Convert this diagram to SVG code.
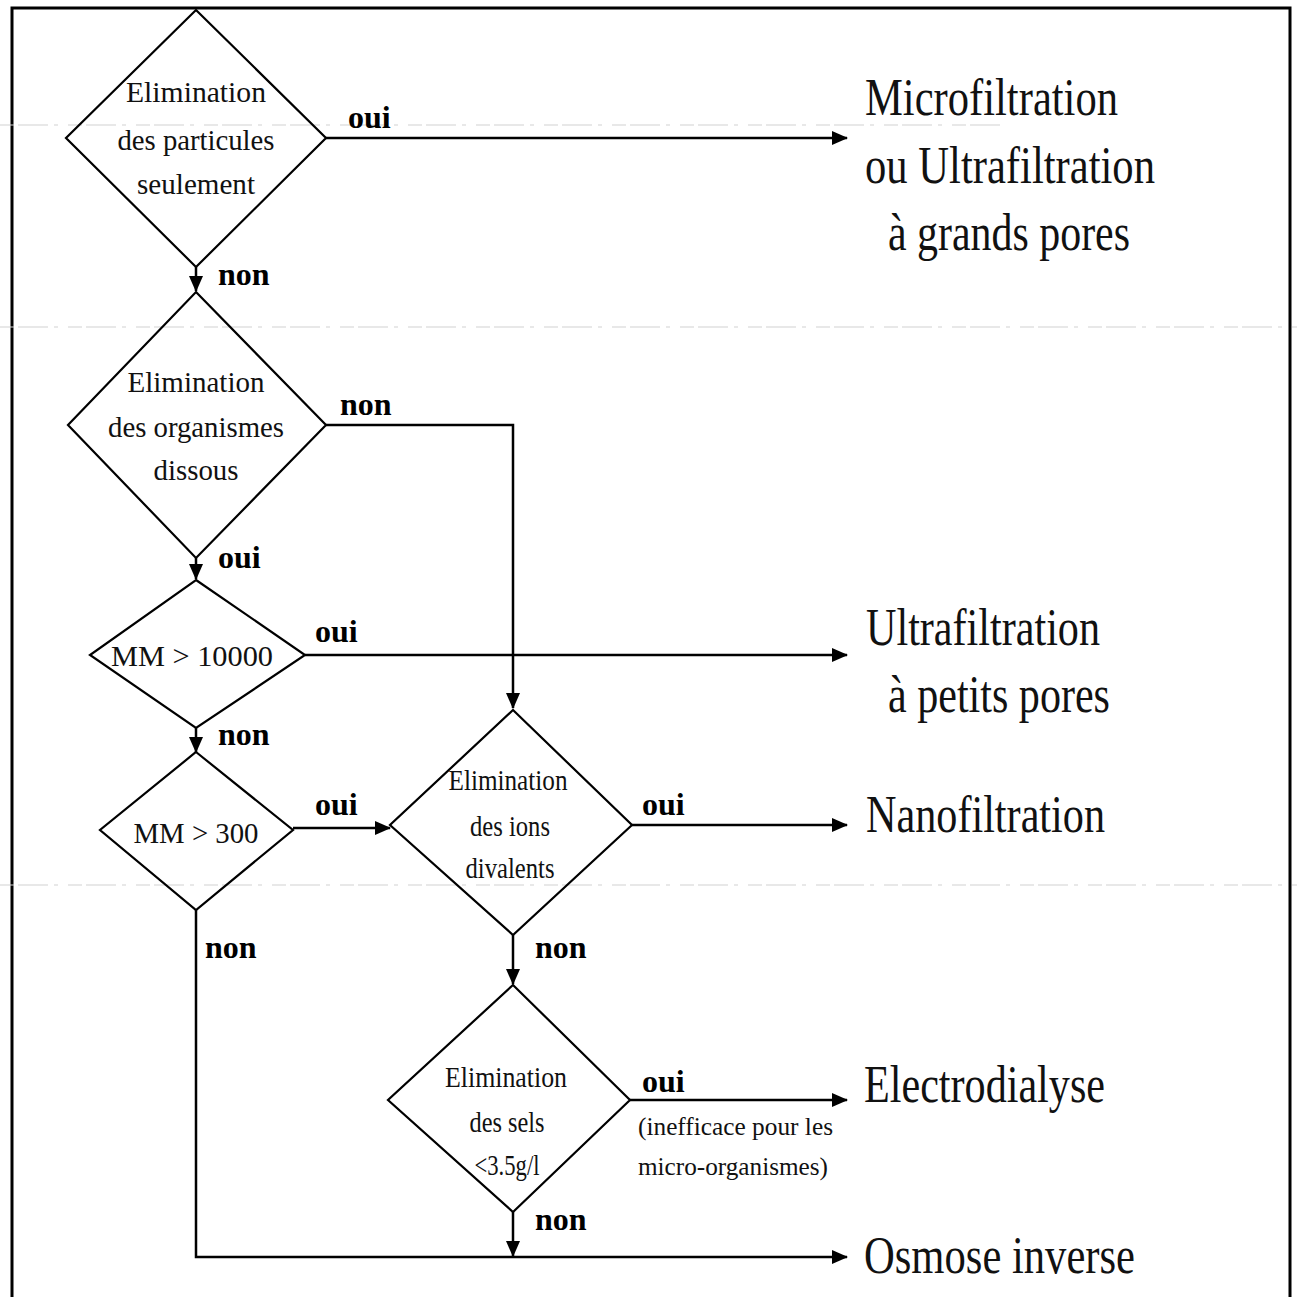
<svg xmlns="http://www.w3.org/2000/svg" width="1297" height="1297" viewBox="0 0 1297 1297">
<style>
.bg{fill:#fff}
.frame{fill:none;stroke:#000;stroke-width:3}
.scan{fill:none;stroke:#d2d2d2;stroke-width:1.2;stroke-dasharray:14 4 30 6 4 10}
.dia{fill:none;stroke:#000;stroke-width:2.2}
.con{fill:none;stroke:#000;stroke-width:2.5}
.dt{font-family:"Liberation Serif","DejaVu Serif",serif;font-size:30px;fill:#111;text-anchor:middle}
.lb{font-family:"Liberation Serif","DejaVu Serif",serif;font-size:32px;font-weight:bold;fill:#000}
.rt{font-family:"Liberation Serif","DejaVu Serif",serif;font-size:52px;fill:#111}
.nt{font-family:"Liberation Serif","DejaVu Serif",serif;font-size:26px;fill:#111}
</style>
<defs>
<marker id="arr" markerUnits="userSpaceOnUse" markerWidth="18" markerHeight="18" viewBox="0 0 18 18" refX="16" refY="9" orient="auto">
<path d="M1,2 L17,9 L1,16 Z" fill="#000"/>
</marker>
</defs>
<rect class="bg" x="0" y="0" width="1297" height="1297"/>
<path class="frame" d="M12,1297 V8 H1290 V1297"/>
<g id="scanlines">
<line class="scan" x1="0" y1="125" x2="1000" y2="125"/>
<line class="scan" x1="0" y1="327" x2="1297" y2="327"/>
<line class="scan" x1="0" y1="885" x2="1297" y2="885"/>
</g>
<g id="connectors">
<path class="con" d="M326,138 H847" marker-end="url(#arr)"/>
<path class="con" d="M196,267 V291" marker-end="url(#arr)"/>
<path class="con" d="M326,425 H513 V708" marker-end="url(#arr)"/>
<path class="con" d="M196,558 V579" marker-end="url(#arr)"/>
<path class="con" d="M305,655 H847" marker-end="url(#arr)"/>
<path class="con" d="M196,728 V752" marker-end="url(#arr)"/>
<path class="con" d="M293,828 H390" marker-end="url(#arr)"/>
<path class="con" d="M632,825 H847" marker-end="url(#arr)"/>
<path class="con" d="M513,935 V984" marker-end="url(#arr)"/>
<path class="con" d="M630,1100 H847" marker-end="url(#arr)"/>
<path class="con" d="M513,1212 V1256" marker-end="url(#arr)"/>
<path class="con" d="M196,910 V1257 H847" marker-end="url(#arr)"/>
<text class="lb" x="348" y="128">oui</text>
<text class="lb" x="218" y="285">non</text>
<text class="lb" x="340" y="415">non</text>
<text class="lb" x="218" y="568">oui</text>
<text class="lb" x="315" y="642">oui</text>
<text class="lb" x="218" y="745">non</text>
<text class="lb" x="315" y="815">oui</text>
<text class="lb" x="642" y="815">oui</text>
<text class="lb" x="205" y="958">non</text>
<text class="lb" x="535" y="958">non</text>
<text class="lb" x="642" y="1092">oui</text>
<text class="lb" x="535" y="1230">non</text>
<text class="nt" x="638" y="1135" textLength="195" lengthAdjust="spacingAndGlyphs">(inefficace pour les</text>
<text class="nt" x="638" y="1175" textLength="190" lengthAdjust="spacingAndGlyphs">micro-organismes)</text>
</g>
<g id="d1">
<polygon class="dia" points="196,10 326,138 196,267 66,138"/>
<text class="dt" x="196" y="102" textLength="140" lengthAdjust="spacingAndGlyphs">Elimination</text>
<text class="dt" x="196" y="150" textLength="157" lengthAdjust="spacingAndGlyphs">des particules</text>
<text class="dt" x="196" y="194" textLength="118" lengthAdjust="spacingAndGlyphs">seulement</text>
</g>
<g id="d2">
<polygon class="dia" points="196,292 326,425 196,558 68,425"/>
<text class="dt" x="196" y="392" textLength="137" lengthAdjust="spacingAndGlyphs">Elimination</text>
<text class="dt" x="196" y="437" textLength="176" lengthAdjust="spacingAndGlyphs">des organismes</text>
<text class="dt" x="196" y="480" textLength="85" lengthAdjust="spacingAndGlyphs">dissous</text>
</g>
<g id="d3">
<polygon class="dia" points="196,580 305,655 196,728 90,655"/>
<text class="dt" x="192" y="666" textLength="162" lengthAdjust="spacingAndGlyphs">MM &gt; 10000</text>
</g>
<g id="d4">
<polygon class="dia" points="196,752 293,830 196,910 100,830"/>
<text class="dt" x="196" y="843" textLength="125" lengthAdjust="spacingAndGlyphs">MM &gt; 300</text>
</g>
<g id="d5">
<polygon class="dia" points="513,710 632,825 513,935 390,825"/>
<text class="dt" x="508" y="790" textLength="119" lengthAdjust="spacingAndGlyphs">Elimination</text>
<text class="dt" x="510" y="836" textLength="80" lengthAdjust="spacingAndGlyphs">des ions</text>
<text class="dt" x="510" y="878" textLength="89" lengthAdjust="spacingAndGlyphs">divalents</text>
</g>
<g id="d6">
<polygon class="dia" points="513,985 630,1100 513,1212 388,1100"/>
<text class="dt" x="506" y="1087" textLength="122" lengthAdjust="spacingAndGlyphs">Elimination</text>
<text class="dt" x="507" y="1132" textLength="75" lengthAdjust="spacingAndGlyphs">des sels</text>
<text class="dt" x="507" y="1175" textLength="65" lengthAdjust="spacingAndGlyphs">&lt;3.5g/l</text>
</g>
<g id="r1">
<text class="rt" x="865" y="115" textLength="253" lengthAdjust="spacingAndGlyphs">Microfiltration</text>
<text class="rt" x="865" y="183" textLength="290" lengthAdjust="spacingAndGlyphs">ou Ultrafiltration</text>
<text class="rt" x="888" y="250" textLength="242" lengthAdjust="spacingAndGlyphs">à grands pores</text>
</g>
<g id="r2">
<text class="rt" x="866" y="645" textLength="234" lengthAdjust="spacingAndGlyphs">Ultrafiltration</text>
<text class="rt" x="888" y="712" textLength="222" lengthAdjust="spacingAndGlyphs">à petits pores</text>
</g>
<g id="r3">
<text class="rt" x="866" y="832" textLength="239" lengthAdjust="spacingAndGlyphs">Nanofiltration</text>
</g>
<g id="r4">
<text class="rt" x="864" y="1102" textLength="241" lengthAdjust="spacingAndGlyphs">Electrodialyse</text>
</g>
<g id="r5">
<text class="rt" x="864" y="1273" textLength="271" lengthAdjust="spacingAndGlyphs">Osmose inverse</text>
</g>
</svg>
